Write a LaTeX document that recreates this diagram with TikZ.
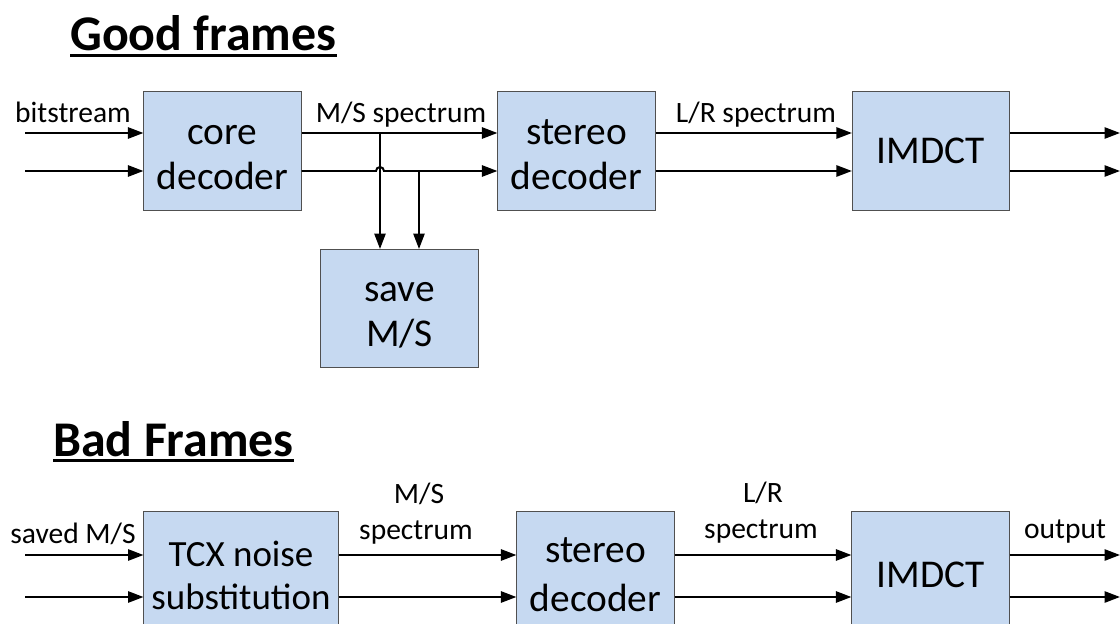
\documentclass[tikz,border=0pt]{standalone}
\usepackage{fontspec}
\setmainfont{Carlito}
\usetikzlibrary{arrows.meta}
\definecolor{boxfill}{HTML}{C6D9F1}
\definecolor{boxline}{HTML}{505050}
\newcommand{\titleul}[1]{\leavevmode\setbox0=\hbox{#1}\rlap{\rule[-4pt]{\wd0}{2pt}}\box0}

\begin{document}
\begin{tikzpicture}[
    x=0.025cm, y=-0.025cm,
    block/.style={draw=boxline, line width=0.7pt, fill=boxfill, minimum width=3.93cm, minimum height=2.95cm, inner sep=0pt, font=\fontsize{28}{32}\selectfont, align=center},
    twoline/.style={text height=55pt},
    lbl/.style={font=\fontsize{21}{24}\selectfont, inner sep=0pt, anchor=base},
    title/.style={font=\fontsize{35.5}{40}\selectfont\bfseries, inner sep=0pt, anchor=base west},
    arrow/.style={-{Triangle[length=11pt,width=8pt]}, line width=1.4pt}
]
\useasboundingbox (0,0) rectangle (1120,624);
\clip (0,0) rectangle (1120,624);

% Titles
\node[title] (good) at (70,51) {\titleul{Good frames}};
\node[title] (bad) at (53,456) {\titleul{Bad Frames}};

% Good frames blocks
\node[block, twoline] (core) at (222.5,151) {core\\decoder};
\node[block, twoline] (stereo) at (576.5,151) {stereo\\decoder};
\node[block] (imdct) at (931,151) {IMDCT};
\node[block, twoline] (save) at (399.5,308.5) {save\\M/S};

% Bad frames blocks
\node[block, minimum width=4.85cm, minimum height=3.15cm, font=\fontsize{26.3}{30.6}\selectfont] (tcx) at (241,575) {TCX noise\\substitution};
\node[block, minimum height=3.15cm, font=\fontsize{28}{35}\selectfont] (stereob) at (595.5,575) {stereo\\decoder};
\node[block, minimum height=3.15cm] (imdctb) at (930.5,575) {IMDCT};

% Line ends
\coordinate (in1) at (25,133);
\coordinate (in2) at (25,171);
\coordinate (out1) at (1120,133);
\coordinate (out2) at (1120,171);
\coordinate (tapA) at (380,133);
\coordinate (tapB) at (419,171);
\coordinate (hopL) at (376,171);
\coordinate (inb1) at (25,555);
\coordinate (inb2) at (25,597);
\coordinate (outb1) at (1120,555);
\coordinate (outb2) at (1120,597);

% Good frames arrows
\draw[arrow] (in1) -- (in1 -| core.west);
\draw[arrow] (in2) -- (in2 -| core.west);
\draw[arrow] (tapA -| core.east) -- (tapA -| stereo.west);
\draw[arrow] (hopL -| core.east) -- (hopL) arc[start angle=180, end angle=360, radius=4] -- (hopL -| stereo.west);
\draw[arrow] (tapA) -- (tapA |- save.north);
\draw[arrow] (tapB) -- (tapB |- save.north);
\draw[arrow] (in1 -| stereo.east) -- (in1 -| imdct.west);
\draw[arrow] (in2 -| stereo.east) -- (in2 -| imdct.west);
\draw[arrow] (out1 -| imdct.east) -- (out1);
\draw[arrow] (out2 -| imdct.east) -- (out2);

% Bad frames arrows
\draw[arrow] (inb1) -- (inb1 -| tcx.west);
\draw[arrow] (inb2) -- (inb2 -| tcx.west);
\draw[arrow] (inb1 -| tcx.east) -- (inb1 -| stereob.west);
\draw[arrow] (inb2 -| tcx.east) -- (inb2 -| stereob.west);
\draw[arrow] (inb1 -| stereob.east) -- (inb1 -| imdctb.west);
\draw[arrow] (inb2 -| stereob.east) -- (inb2 -| imdctb.west);
\draw[arrow] (outb1 -| imdctb.east) -- (outb1);
\draw[arrow] (outb2 -| imdctb.east) -- (outb2);

% Labels
\node[lbl] (lbit) at (73,122) {bitstream};
\node[lbl] (lms) at (401,122) {M/S spectrum};
\node[lbl] (llr) at (756,122) {L/R spectrum};
\node[lbl] (lsaved) at (73,543) {saved M/S};
\node[lbl] (lmsb) at (419,503) {M/S};
\node[lbl] (lmsb2) at (416,539) {spectrum};
\node[lbl] (llrb) at (763,502) {L/R};
\node[lbl] (llrb2) at (761,538) {spectrum};
\node[lbl] (lout) at (1065,538) {output};
\end{tikzpicture}
\end{document}
